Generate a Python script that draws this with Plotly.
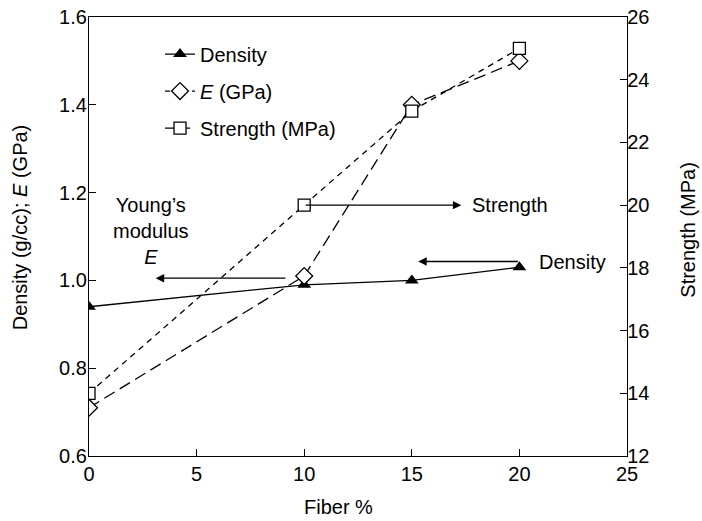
import plotly.graph_objects as go

fiber = [0, 10, 15, 20]
density = [0.94, 0.99, 1.00, 1.03]
modulus_e = [0.71, 1.01, 1.40, 1.50]
strength = [14.0, 20.0, 23.0, 25.0]

x_ticks = [0, 5, 10, 15, 20, 25]
left_ticks = [0.6, 0.8, 1.0, 1.2, 1.4, 1.6]
right_ticks = [12, 14, 16, 18, 20, 22, 24, 26]

FONT = "Liberation Sans, Arial, Helvetica, sans-serif"
FS = 20
LW = 1.3

fig = go.Figure()
# Data traces (as drawn in the plot)
fig.add_trace(go.Scatter(
    x=fiber, y=density, mode="lines+markers", showlegend=False,
    line=dict(color="black", width=LW),
    marker=dict(symbol="triangle-up", size=12, color="black")))
fig.add_trace(go.Scatter(
    x=fiber, y=modulus_e, mode="lines+markers", showlegend=False,
    line=dict(color="black", width=LW, dash="12px,6px"),
    marker=dict(symbol="diamond", size=13, color="white",
                line=dict(color="black", width=LW))))
fig.add_trace(go.Scatter(
    x=fiber, y=strength, mode="lines+markers", showlegend=False,
    yaxis="y2",
    line=dict(color="black", width=LW, dash="6px,5px"),
    marker=dict(symbol="square", size=12, color="white",
                line=dict(color="black", width=LW))))

# Legend entries (styled as in the reference legend)
fig.add_trace(go.Scatter(
    x=[None], y=[None], name="Density", mode="lines+markers", legendgroup="a",
    line=dict(color="black", width=LW),
    marker=dict(symbol="triangle-up", size=12, color="black")))
fig.add_trace(go.Scatter(
    x=[None], y=[None], name="<i>E</i> (GPa)", mode="lines+markers", legendgroup="b",
    line=dict(color="black", width=LW, dash="5px,4px"),
    marker=dict(symbol="diamond", size=13, color="white",
                line=dict(color="black", width=LW))))
fig.add_trace(go.Scatter(
    x=[None], y=[None], name="Strength (MPa)", mode="lines+markers", legendgroup="c",
    line=dict(color="black", width=LW, dash="10px,5px"),
    marker=dict(symbol="square", size=12, color="white",
                line=dict(color="black", width=LW))))

axis_common = dict(
    showline=True, linecolor="black", linewidth=LW,
    ticks="inside", ticklen=7, tickwidth=LW, tickcolor="black",
    showgrid=False, zeroline=False, automargin=False,
    tickfont=dict(family=FONT, size=FS, color="black"),
)

fig.update_layout(
    width=702, height=521,
    paper_bgcolor="white", plot_bgcolor="white",
    margin=dict(l=89, r=75, t=17, b=65),
    font=dict(family=FONT, size=FS, color="black"),
    xaxis=dict(range=[0, 25], tickvals=x_ticks, mirror=True,
               ticklabelstandoff=0, **axis_common),
    yaxis=dict(range=[0.6, 1.6], tickvals=left_ticks, tickformat=".1f",
               ticklabelstandoff=-3, **axis_common),
    yaxis2=dict(range=[12, 26], tickvals=right_ticks, overlaying="y", side="right",
                ticklabelstandoff=-5, **axis_common),
    legend=dict(x=0.132, y=0.96, xanchor="left", yanchor="top",
                bgcolor="rgba(0,0,0,0)", tracegroupgap=8,
                font=dict(family=FONT, size=FS)),
    showlegend=True,
)

# Axis titles
fig.add_annotation(x=0.463, y=-0.116, xref="paper", yref="paper", text="Fiber %",
                   showarrow=False, xanchor="center", yanchor="middle")
fig.add_annotation(x=-0.129, y=0.52, xref="paper", yref="paper",
                   text="Density (g/cc); <i>E</i> (GPa)", textangle=-90,
                   showarrow=False, xanchor="center", yanchor="middle")
fig.add_annotation(x=1.113, y=0.515, xref="paper", yref="paper",
                   text="Strength (MPa)", textangle=-90,
                   showarrow=False, xanchor="center", yanchor="middle")

arrow = dict(showarrow=True, arrowhead=2, arrowsize=1.3, arrowwidth=LW,
             arrowcolor="black", text="")

# Strength arrow (right axis)
fig.add_annotation(x=17.3, y=20, xref="x", yref="y2", ax=10, ay=20,
                   axref="x", ayref="y2", **arrow)
fig.add_annotation(x=17.7, y=20, xref="x", yref="y2", text="Strength",
                   showarrow=False, xanchor="left", yanchor="middle")
# Density arrow
fig.add_annotation(x=15.3, y=1.043, xref="x", yref="y", ax=20, ay=1.043,
                   axref="x", ayref="y", **arrow)
fig.add_annotation(x=20.8, y=1.043, xref="x", yref="y", text="Density",
                   showarrow=False, xanchor="left", yanchor="middle")
# Young's modulus arrow
fig.add_annotation(x=3.1, y=1.005, xref="x", yref="y", ax=9.2, ay=1.005,
                   axref="x", ayref="y", **arrow)
fig.add_annotation(x=2.9, y=1.113, xref="x", yref="y",
                   text="Young’s<br>modulus<br><i>E</i>",
                   showarrow=False, xanchor="center", yanchor="middle")

fig.write_html(
    "out.html",
    config={"displayModeBar": False},
    post_script="document.body.style.margin='0';document.body.style.padding='0';",
)
